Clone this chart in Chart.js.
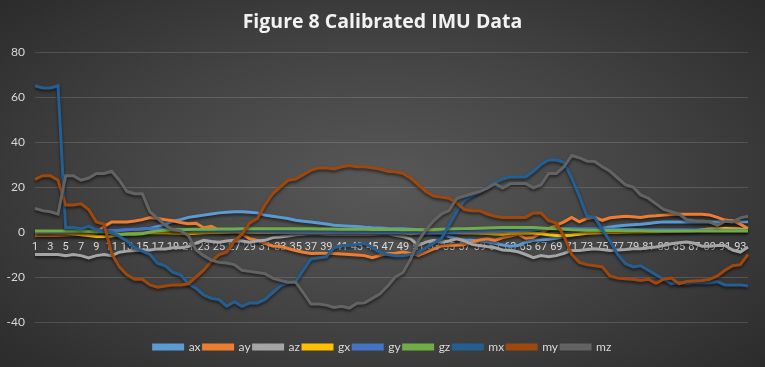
<!DOCTYPE html>
<html>
<head>
<meta charset="utf-8">
<script src="https://cdn.jsdelivr.net/npm/chart.js@4"></script>
<style>
  html, body { margin: 0; padding: 0; }
  #wrap {
    width: 765px; height: 367px;
    background: radial-gradient(ellipse 70% 75% at 50% 50%, #585858 0%, #434343 50%, #2a2a2a 100%);
  }
</style>
</head>
<body>
<div id="wrap"><canvas id="imuChart" width="765" height="367"></canvas></div>
<script>
const labels = [];
for (let i = 1; i <= 94; i++) labels.push(String(i));

const ax = [0,0,0,0,0,0,0,0,0,0.3,
  0.5,0.7,0.9,1,1.3,1.6,2.5,3.5,4.8,5.5,
  6.5,7,7.5,8,8.5,8.8,9,9,8.8,8.5,
  7.5,7,6.5,6,5.2,4.8,4.4,4,3.6,3,
  2.8,2.6,2.4,2.1,1.9,1.8,1.6,1.5,1.4,1.2,
  1,0.7,0,-0.7,-2,-3,-3.5,-3.7,-4,-4.3,
  -5,-5.8,-6.3,-6,-4.5,-3.7,-3.5,-3.2,-2.8,-2,
  -1.5,-0.8,0,0.8,1.6,2.2,2.7,3,3.2,3.4,
  3.8,4.2,4.5,4.5,4.5,4.5,4.5,4.5,4.5,4.6,
  4.8,5,4.6,4.5];
const ay = [-1.5,-1.5,-1.5,-1.5,-1.3,-1.2,-1,-0.8,-0.5,2.5,
  4.5,4.5,4.5,4.9,5.5,6.4,6,5.4,5,4.2,
  3.7,3.9,1.9,2.5,0.8,0,0.7,-0.8,-3,-3.7,
  -5,-6.2,-6.4,-7.3,-8.2,-9,-9.6,-9.4,-9.5,-9.6,
  -9.8,-10,-10.2,-10.5,-11.4,-10.4,-9.6,-9.4,-8.9,-9.5,
  -10.4,-8.9,-7.5,-6.2,-5.9,-5.9,-5.6,-4.5,-3.5,-3,
  -3.7,-2.5,-1.8,-1,-2.8,-2.4,-0.5,1.5,3,4.5,
  6.5,4.5,6,6.5,5.2,6.3,6.7,7,6.8,6.5,
  7,7.2,7.5,7.8,7.9,7.9,7.9,7.9,7.6,6.5,
  5.3,4.9,3.5,1.5];
const az = [-10,-10,-10,-10,-10.5,-10,-10.5,-11.5,-10.5,-10,
  -10.5,-9,-8.5,-8.2,-8,-8,-7.5,-7.5,-7,-7,
  -6.5,-5,-3.7,-4.2,-4.5,-4,-3.7,-4,-4.5,-4,
  -3.7,-2.5,-2.2,-1.8,-1.2,-1,-0.7,-0.8,-1,-1,
  -1,-1,-1,-1,-1,-0.8,-0.7,-1.5,-2,-3,
  -5.9,-4.5,-3.7,-4.5,-4,-3,-4,-5.5,-6,-6.5,
  -7,-8,-8.2,-8.8,-10,-11.4,-10.5,-11,-10.5,-9.5,
  -8.2,-8.2,-7.8,-7.4,-7.8,-8.2,-8,-7.8,-7.4,-7.4,
  -7,-6.7,-6,-5.2,-4.8,-4.5,-5,-6.3,-6.3,-6,
  -6,-8,-8.9,-6.7];
const gx = [-0.3,-0.3,-0.3,-0.4,
  -0.5,-0.8,-1.2,-1.6,-2,-2,-1.8,
  -1.2,-0.8,-0.5,-0.4,-0.3,-0.3,-0.3,-0.4,
  -0.6,-0.8,-0.6,
  -0.3,-0.2,-0.2,-0.1,0,0,-0.1,-0.2,
  -0.2,-0.2,-0.1,-0.1,0,0,0,-0.1,-0.1,0,
  0,0,0,-0.1,-0.1,0,0,-0.2,-0.5,-0.8,
  -0.5,-0.3,-0.2,-0.2,-0.3,-0.3,-0.4,-0.5,-0.6,-0.7,
  -0.9,-1,-0.6,-0.4,-0.3,-0.5,-0.8,
  -1.2,-1.5,-1.5,-1.3,-1,
  -0.6,-0.4,-0.3,-0.2,-0.2,-0.1,0,0,0.1,0.1,0.2,0.2,0.3,0.4,
  0.6,1,1.3,1.5,1.6,1.5,1.3,1.2];
const gy = [0,0,0,0,0.1,0.1,0.2,0.2,0.3,
  0.4,0.6,0.8,1,1.2,1.3,1.5,1.5,1.2,1,
  0.9,0.8,0.7,0.6,0.6,0.5,0.5,0.4,0.4,0.3,0.3,
  0.2,0.2,0.1,0.1,0,0,0,0,0,0,
  0,0,0,0,0,-0.1,-0.1,-0.2,-0.2,-0.3,
  -0.3,-0.4,-0.4,-0.3,-0.2,-0.1,0,0.1,0.2,0.2,
  0.3,0.4,0.5,0.6,0.8,1,1.2,1.4,1.5,1.6,
  1.6,1.5,1.5,1.4,1.3,1.2,1.2,1.1,1.1,1,
  1,1,1,1,1,1,0.9,0.9,0.9,0.8,0.8,0.8,0.8,0.8];
const gz = [0.5,0.5,0.5,0.5,0.5,0.5,0.4,0.3,0.1,0,
  -0.5,-1,-1,-1,-0.8,0,0.5,0.8,1,1,
  1.1,1.2,1.2,1.2,1.3,1.3,1.3,1.4,1.4,1.4,
  1.5,1.5,1.5,1.5,1.4,1.4,1.4,1.3,1.3,1.3,
  1.2,1.2,1.2,1.2,1.1,1.1,1.1,1.1,1,1,
  1,1,1.1,1.2,1.3,1.4,1.5,1.6,1.7,1.8,
  1.9,2,2,2,2,2,1.8,1.6,1.4,1.2,
  1,0.9,0.8,0.8,0.7,0.7,0.7,0.6,0.6,0.6,
  0.5,0.5,0.5,0.5,0.5,0.5,0.5,0.5,0.5,0.5,0.5,0.5,0.5,0.5];
const mx = [65,64,64,65,2,2,1.5,2.5,1,0.5,
  0,-2,-4,-7,-8.5,-10,-14,-15,-18,-19,
  -23,-25,-28,-29.5,-30,-33,-31,-33,-31.5,-31.5,
  -30,-27,-24,-22.5,-22,-17,-12,-11.5,-11,-7,
  -6,-6,-5.5,-5,-7,-9,-10,-10.5,-10.5,-10,
  -9,-7,-5,-3,3,9,14,16,18,20,
  22,23.5,24.5,24.5,24.5,27,30,32,32,31,
  24,16,7,6.5,1,-4,-10,-14,-15.5,-15,
  -17,-19,-21,-23,-22.5,-23,-22.5,-22.5,-22.5,-22,
  -23.5,-23.5,-23.5,-24];
const my = [23.4,25,25,23,12,12,12.5,10,4.5,3.5,
  -9.5,-15.5,-19,-21,-21,-23.5,-24.5,-24,-23.5,-23.5,
  -23,-20,-17,-13,-10,-9,-4,-1,4,6,
  12,17,20,23,23.5,25.5,27.5,28.5,28.5,28,
  29,29.5,29,29,28.5,28,27,26.8,26,24,
  21,18,16,15.5,15,13,10,9.5,9.5,8,
  7,6.5,6.5,6.5,6.5,8.5,8.5,5,4,-2,
  -10,-13.5,-14.5,-15,-15.5,-19.5,-20.5,-20.8,-21,-21.5,
  -21,-22.8,-21,-20.5,-23,-22,-21.8,-21.6,-21,-19.5,
  -17,-15,-14.5,-10];
const mz = [10.5,9.5,9,8,25,25,23,24,26,26,
  27,23,18,17,17,9,6,3,1,0.5,
  -1.5,-8,-10.5,-12.5,-13.5,-13.8,-14.5,-17,-17.5,-18,
  -18.5,-20.5,-21.5,-22.3,-22.3,-27,-32,-32,-32.5,-33.5,
  -33,-33.8,-31.7,-31.5,-29.5,-27.5,-24,-20,-18,-12,
  -4,1,5,8,9.5,14.9,16,17,18,19.5,
  21.5,19.5,21.5,21.6,21.6,19.6,21,26,26,29,
  34,33,31.5,31.3,29,27,24,21,20,16.5,
  15,12.5,10,9,8,5.5,5,4.9,4.5,3,
  4.8,4.5,6.3,7];

const seriesNames = ['ax', 'ay', 'az', 'gx', 'gy', 'gz', 'mx', 'my', 'mz'];
const seriesData = [ax, ay, az, gx, gy, gz, mx, my, mz];
const seriesColors = ['#5B9BD5', '#ED7D31', '#A5A5A5', '#FFC000', '#4472C4',
                      '#70AD47', '#255E91', '#9E480E', '#636363'];

const datasets = seriesNames.map((name, i) => ({
    label: name,
    data: seriesData[i],
    borderColor: seriesColors[i],
    backgroundColor: seriesColors[i],
    borderWidth: 3,
    pointRadius: 0,
    tension: 0,
    order: -i
}));

// soft drop shadow under each line, like the Excel style
const lineShadow = {
    id: 'lineShadow',
    beforeDatasetDraw(chart) {
        const ctx = chart.ctx;
        ctx.save();
        ctx.shadowColor = 'rgba(0,0,0,0.55)';
        ctx.shadowBlur = 3;
        ctx.shadowOffsetY = 2;
    },
    afterDatasetDraw(chart) {
        chart.ctx.restore();
    }
};

const textColor = '#D9D9D9';

new Chart(document.getElementById('imuChart').getContext('2d'), {
    type: 'line',
    data: { labels: labels, datasets: datasets },
    plugins: [lineShadow],
    options: {
        responsive: false,
        animation: false,
        layout: { padding: { left: 0, right: 0, top: 0, bottom: 4 } },
        plugins: {
            title: {
                display: true,
                text: 'Figure 8 Calibrated IMU Data',
                color: '#F2F2F2',
                font: { family: 'Open Sans', size: 19.5, weight: 'bold' },
                padding: { top: 11, bottom: 17.6 }
            },
            legend: {
                position: 'bottom',
                labels: {
                    color: textColor,
                    font: { family: 'Lato', size: 12 },
                    boxWidth: 29,
                    boxHeight: 4,
                    padding: 3,
                    sort: (a, b) => a.datasetIndex - b.datasetIndex
                }
            },
            tooltip: { enabled: false }
        },
        scales: {
            x: {
                position: { y: 0 },
                z: 1,   // category labels sit on top of the lines
                grid: { display: false, drawTicks: false },
                border: { display: false },
                ticks: {
                    color: textColor,
                    font: { family: 'Roboto', size: 11 },
                    autoSkip: false,
                    maxRotation: 0,
                    padding: 9,
                    callback: function (val, idx) {
                        return idx % 2 === 0 ? this.getLabelForValue(val) : '';
                    }
                }
            },
            // empty spacer axes so the plot sits where the original one does
            xPad: {
                type: 'linear',
                position: 'bottom',
                grid: { display: false, drawTicks: false },
                border: { display: false },
                ticks: { display: false },
                afterFit: function (scale) { scale.height = 16; }
            },
            yPad: {
                type: 'linear',
                position: 'right',
                grid: { display: false, drawTicks: false },
                border: { display: false },
                ticks: { display: false },
                afterFit: function (scale) { scale.width = 17; }
            },
            y: {
                min: -40,
                max: 80,
                ticks: {
                    stepSize: 20,
                    color: textColor,
                    font: { family: 'Lato', size: 12 },
                    padding: 10
                },
                grid: { color: 'rgba(255,255,255,0.14)', drawTicks: false },
                border: { display: false },
                afterFit: function (scale) { scale.width = 35; }
            }
        }
    }
});
</script>
</body>
</html>
